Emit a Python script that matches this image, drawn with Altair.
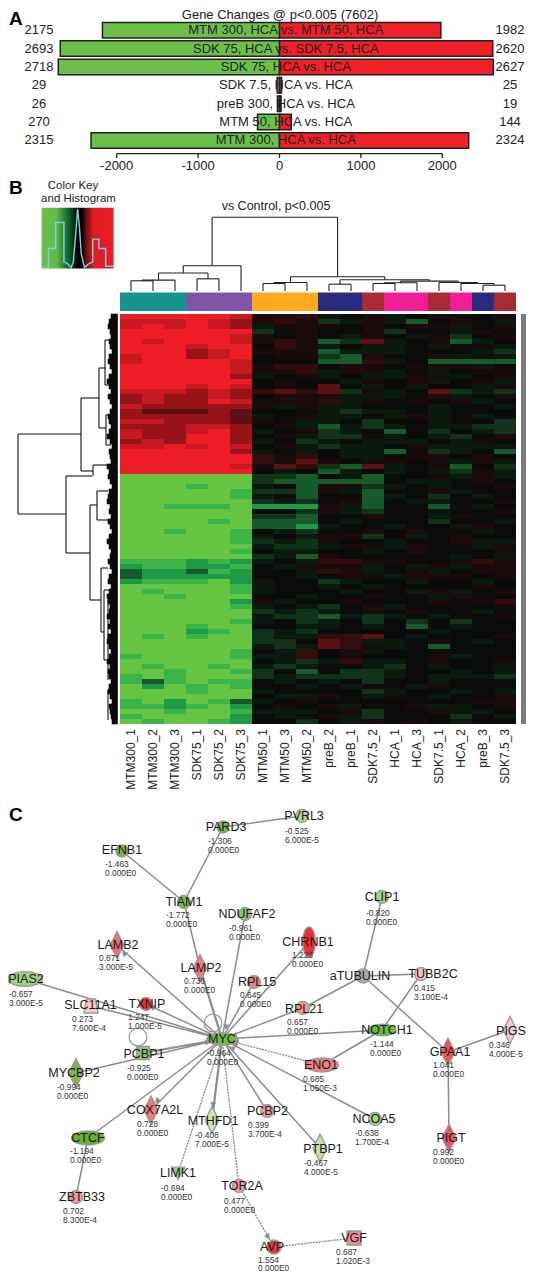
import math
import altair as alt
import pandas as pd

FONT = "Liberation Sans"
INK = "#222222"
W, H = 519, 1264

# ---------- Panel A data ----------
comparisons = ["MTM 300, HCA vs. MTM 50, HCA", "SDK 75, HCA vs. SDK 7.5, HCA", "SDK 75, HCA vs. HCA",
               "SDK 7.5, HCA vs. HCA", "preB 300, HCA vs. HCA", "MTM 50, HCA vs. HCA", "MTM 300, HCA vs. HCA"]
down_counts = [2175, 2693, 2718, 29, 26, 270, 2315]
up_counts = [1982, 2620, 2627, 25, 19, 144, 2324]
axis_ticks = [-2000, -1000, 0, 1000, 2000]

# ---------- Panel B data ----------
samples = ["MTM300_1", "MTM300_2", "MTM300_3", "SDK75_1", "SDK75_2", "SDK75_3", "MTM50_1", "MTM50_3", "MTM50_2",
           "preB_2", "preB_1", "SDK7.5_2", "HCA_1", "HCA_3", "SDK7.5_1", "HCA_2", "preB_3", "SDK7.5_3"]
groups = ["MTM300", "SDK75", "MTM50", "preB", "SDK7.5", "HCA", "SDK7.5", "HCA", "preB", "SDK7.5"]
group_sizes = [3, 3, 3, 2, 1, 2, 1, 1, 1, 1]
group_names = ["MTM300", "SDK75", "MTM50", "preB", "SDK7.5", "HCA"]
group_colors = ["#16958f", "#7d54a6", "#ffa91c", "#2a2a80", "#a62c32", "#f01e96"]

level_values = {"R": 1.0, "r": 0.8, "d": 0.6, "m": 0.4, "n": 0.25, "p": 0.12, "k": 0.0,
                "q": -0.12, "h": -0.25, "g": -0.4, "e": -0.6, "c": -0.8, "L": -1.0}
heat_rows = """
RRRRRr ppnqkpqkppkp
rrrRrd pnphqpqgkpkq
rRrRrd qpppkpkppqkp
RRRRRR hkpkkphkkqpk
RRRRRr pkpkqpkqphkp
RrRRRr pnpghmqkpgqk
RRRrRR knpqkqqkqkpq
RRRdrR pppgqqqkkkqh
rRRdrR kpphgpkkpqpq
rRRRRr kkkggnqkgggg
RRRRRr pnnkppkpppqk
RRRRRr ppnqppqkqkpp
RRRRRd qkpqkqqppqkp
RRRRRR kpkkqpkpqkpq
RRRrRr kpkmkqkqkkqp
rrrdrd nmnmhpqkmhqh
drddrd kpppqqqkpqkp
drddRr pppnqpkpkpqk
rddddd pqpqqkkkqkkq
dmmmdm kkkqhqqkqkkk
dddddm qkpqqkqpqkqk
rrdddm pkqqkhkkqkkh
dddrrd kpqgqhqkqqhh
rddrRd qkphqkgkhkqh
rddRRd kpqhhpqkqhkp
drdRRd qkhqkqqqkqpk
rrRrRr kpqhqqkpqqqq
RRRRRd qkqkqqgkhqkg
RRRRRR npnkqqkppkpk
RRRRRR npmpkppkpqpq
RRRRRr pmnhgmqkpgkh
RRRRRR kqkgqkqkqhpq
LLLLLL hhgkqgkkpqpq
LLLLLL hgggggkqqkpk
LLLcLL qkgpphqkqkkp
LLLLLc hhgpqgkkpqkk
LLLLLc qkgkkgqkhkqk
LLLLLL hqhkpgkqqkkp
LLcccL eeepqgkkgkqk
LLLLLL kkhpqhkkqkkp
LLLLLL hhgkkpkkqpkk
LLLLcL gggkqkkkhkkq
LLLLLL ggeqkkqkkqpk
LLcLLc kqhkkpkpkkqk
LLLLLc qkqpphkqkpkk
LLLLLc hqhpkkqkkpqq
LLLLLL qhhqppqpkkqp
LLLLLc kqqkkqkpkkkp
LLLLLL hqgpkkkkkqkq
cccece qkqnnppkkpnp
ecceec kqpppqkqpqpp
geegce kkqnpqkpqkpp
geeeee kkqkppqpppkp
ecccLe qkkhqkkqkkqk
LLLLLc qkkqkqkkkkpk
LcLLLc qkkkqkkqpqkp
LLcLLL kkqkkpkkqpkk
LLLLLe pqkkpkkkpkpn
LLLLLc qkqhkpqkkkkp
LLLLLL hqhqkpkpkkqk
LLLLLL qhhgqhqkqkkp
LLLLLc qkhqkhkhkhkk
LLLcLL kkqqkqkgkqkk
LLLecL hqhkkkkkqkkk
LcLcLL hqqnnmkqkkkp
LLLLLL hhkmnqqkpkqk
LLLLLL qhqmnpqkgkkk
LLLLLc kqnkpqkkkkkk
cLLLLc qqnkpkkkpqkk
LLLLLL kqhqnqqkpkkp
LcLLcL qhqkkqhkqkkq
LLcLLc hkgkhhqkkqkq
cLcLLL hqhhhhqkqqqh
cgcLcc kqkqkhkkqkkk
LeLcLc kkqkqpkqpkkk
LLLcLL qkkkkhqkkqkq
LLLLLL kqqpkqpkqkkp
cLeLcg qkpkkkkkkkpp
ccecLe kpkpqkkpqqkp
LLcLLc qqqkphkkpqqk
cLLLLe kqkpqhkkkhkq
LcLLce kkhkqpkpkqkk
""".split("\n")
heat_rows = [r.replace(" ", "") for r in heat_rows if r.strip()]
heat_level_domain = [-1, -.8, -.6, -.4, -.25, -.12, 0, .12, .25, .4, .6, .8, 1]
heat_level_colors = ["#66c443", "#3bb44a", "#1f9a46", "#175a2b", "#10331a", "#0b1a0e", "#0b0b0b",
                     "#1c0b0c", "#330c0e", "#5a1014", "#971519", "#c61a20", "#ee1c25"]

col_merges = [(0, 1, 280.8), ("m0", 2, 280.1), (3, 4, 278.8), ("m1", "m2", 273.0), ("m3", 5, 265.8),
              (6, 7, 283.5), ("m5", 8, 282.5), (9, 10, 284.2), (11, 12, 283.5), ("m8", 13, 282.8),
              (16, 17, 285.2), (15, "m10", 283.5), (14, "m11", 282.5), ("m9", "m12", 281.1),
              ("m7", "m13", 279.8), ("m6", "m14", 276.7), ("m4", "m15", 217.3)]
COL_LEAF_BASE = 291.0

row_dendro_segments = [
    (18, 434, 81, 434), (18, 514, 66, 514), (18, 434, 18, 514),
    (81, 398, 81, 471), (81, 398, 99, 398), (81, 471, 93, 471),
    (99, 368, 99, 428), (99, 368, 106, 368), (99, 428, 106, 428),
    (66, 476, 66, 553), (66, 476, 92, 476), (66, 553, 90, 553),
    (90, 505, 90, 600), (90, 505, 97, 505), (90, 600, 101, 600),
    (93, 465, 93, 476), (93, 465, 108, 465),
    (97, 491, 97, 520), (97, 491, 108, 491), (97, 520, 108, 520),
    (101, 568, 101, 632), (101, 568, 108, 568), (101, 632, 104, 632),
    (104, 590, 104, 660), (104, 590, 110, 590), (104, 660, 110, 660),
    (105, 340, 105, 385), (105, 340, 110, 340), (105, 385, 110, 385),
    (106, 415, 106, 445), (106, 415, 111, 415), (106, 445, 111, 445),
    (108, 600, 108, 680), (108, 690, 108, 720),
]
leaf_band_left = [111, 109, 108, 110, 111, 109, 110, 112, 109, 108, 110, 112, 109, 107, 109, 111, 108, 110, 112, 110,
                  108, 109, 111, 109, 107, 110, 112, 109, 110, 111, 107, 109, 108, 110, 112, 109, 108, 107, 110, 109,
                  111, 108, 110, 112, 109, 107, 109, 111, 110, 108, 110, 112, 109, 108, 111, 109, 107, 108, 110, 109,
                  107, 110, 108, 111, 108, 107, 109, 111, 109, 107, 110, 108, 109, 111, 109, 108, 110, 112, 109, 110, 111, 112]

hist_z = [-1, -.81, -.81, -.61, -.61, -.38, -.38, -.29, -.18, -.12, -.05, 0, .05, .1, .19, .33, .42, .42, .59, .59, .78, .78, 1]
hist_count = [0, 0, .33, .33, .77, .77, .1, .08, .01, .1, .6, 1, .7, .25, .01, .08, .1, .49, .49, .33, .33, .03, .03]

CIRCLE = "M-1,0A1,1,0,1,1,1,0A1,1,0,1,1,-1,0Z"
WIDE = "M-1,0A1,0.42,0,1,1,1,0A1,0.42,0,1,1,-1,0Z"
TALL = "M0,-1A0.42,1,0,1,1,0,1A0.42,1,0,1,1,0,-1Z"
DIAMOND = "M0,-1L0.5,0L0,1L-0.5,0Z"
SQUARE = "M-1,-1L1,-1L1,1L-1,1Z"
TRI = "M-1,-0.9L1,-0.9L0,1Z"
TRAP = "M-0.65,-1L0.65,-1L1,1L-1,1Z"

nodes = [
    ("EFNB1", 122, 851, CIRCLE, 12, "#7ab648", 122, 850, 105, 864, "-1.463", "0.000E0"),
    ("PARD3", 223, 827, CIRCLE, 12, "#7ab648", 226, 827, 208, 841, "-1.306", "0.000E0"),
    ("PVRL3", 302, 816, CIRCLE, 13, "#b5d89c", 304, 816, 285, 831, "-0.525", "6.000E-5"),
    ("TIAM1", 184, 902, CIRCLE, 13, "#7ab648", 184, 902, 166, 915, "-1.772", "0.000E0"),
    ("NDUFAF2", 245, 914, CIRCLE, 13, "#8cc46c", 247, 914, 229, 928, "-0.961", "0.000E0"),
    ("CLIP1", 382, 897, CIRCLE, 13, "#a4d47c", 382, 897, 366, 913, "-0.820", "0.000E0"),
    ("CHRNB1", 309, 942, TALL, 30, "#ee2d30", 308, 942, 292, 955, "1.223", "0.000E0"),
    ("LAMB2", 117, 945, DIAMOND, 27, "#ec7173", 118, 945, 99, 958, "0.871", "3.000E-5"),
    ("LAMP2", 200, 968, DIAMOND, 27, "#ee7a7c", 201, 968, 184, 981, "0.736", "0.000E0"),
    ("RPL15", 254, 982, CIRCLE, 13, "#f08080", 257, 982, 240, 995, "0.645", "0.000E0"),
    ("PIAS2", 25, 979, WIDE, 35, "#a4cf80", 26, 979, 9, 994, "-0.657", "3.000E-5"),
    ("SLC11A1", 91, 1006, TRAP, 14, "#f9c6c6", 90.5, 1005, 72, 1019, "0.273", "7.600E-4"),
    ("TXNIP", 146, 1004, CIRCLE, 13, "#ee3338", 147, 1004, 128, 1017, "1.247", "1.000E-5"),
    ("aTUBULIN", 363, 976, CIRCLE, 14, "#aaaaaa", 360, 976, 0, 0, "", ""),
    ("TUBB2C", 421, 974, CIRCLE, 13, "#f6c0c0", 433, 974, 414, 988, "0.415", "3.100E-4"),
    ("RPL21", 303, 1008, CIRCLE, 13, "#f39a9a", 304, 1009, 287, 1022, "0.657", "0.000E0"),
    ("NOTCH1", 382, 1030, WIDE, 28, "#66bb44", 387, 1030, 370, 1044, "-1.144", "0.000E0"),
    ("PIGS", 510, 1030, DIAMOND, 27, "#f7c9c9", 511, 1031, 489, 1045, "0.346", "4.000E-5"),
    ("GPAA1", 448, 1052, DIAMOND, 28, "#ea5555", 450, 1052, 433, 1065, "1.041", "0.000E0"),
    ("MYC", 222, 1039, WIDE, 30, "#7ab648", 222, 1039, 207, 1053, "-0.964", "0.000E0"),
    ("PCBP1", 143, 1053, SQUARE, 13, "#8cc46c", 144, 1054, 127, 1068, "-0.925", "0.000E0"),
    ("MYCBP2", 76, 1073, DIAMOND, 29, "#7ab648", 74, 1073, 57, 1087, "-0.994", "0.000E0"),
    ("COX7A2L", 151, 1110, DIAMOND, 28, "#ee7a7c", 155, 1110, 137, 1124, "0.728", "0.000E0"),
    ("MTHFD1", 212, 1120, DIAMOND, 27, "#c8e4b4", 213, 1121, 195, 1135, "-0.408", "7.000E-5"),
    ("CTCF", 88, 1138, WIDE, 33, "#66b032", 88, 1138, 70, 1151, "-1.194", "0.000E0"),
    ("ZBTB33", 76, 1197, CIRCLE, 13, "#f59a9a", 82, 1197, 63, 1211, "0.702", "8.300E-4"),
    ("LIMK1", 178, 1173, TRI, 13, "#9ccc7c", 178, 1173, 161, 1188, "-0.694", "0.000E0"),
    ("TOR2A", 239, 1186, CIRCLE, 13, "#f59a9a", 242, 1186, 224, 1201, "0.477", "0.000E0"),
    ("PCBP2", 267, 1111, CIRCLE, 13, "#f4a0a0", 267.5, 1111, 248, 1125, "0.399", "3.700E-4"),
    ("PTBP1", 320, 1148, DIAMOND, 28, "#c4e0ac", 323, 1149, 304, 1163, "-0.467", "4.000E-5"),
    ("NCOA5", 375, 1119, CIRCLE, 13, "#a9cf8e", 374, 1119, 355, 1133, "-0.638", "1.700E-4"),
    ("ENO1", 322, 1065, WIDE, 33, "#ee8080", 321, 1065, 303, 1079, "0.685", "1.050E-3"),
    ("PIGT", 449, 1138, DIAMOND, 28, "#e85560", 451, 1138, 433, 1152, "0.992", "0.000E0"),
    ("AVP", 274, 1247, CIRCLE, 14, "#e43a40", 272, 1247, 258, 1259.5, "1.554", "0.000E0"),
    ("VGF", 354, 1238, SQUARE, 14, "#ee8a90", 354, 1238, 336, 1252, "0.687", "1.020E-3"),
]
edges_solid = [("EFNB1", "TIAM1"), ("PARD3", "TIAM1"), ("PARD3", "PVRL3"), ("TIAM1", "LAMP2"), ("NDUFAF2", "MYC"),
               ("LAMB2", "MYC"), ("PIAS2", "MYC"), ("SLC11A1", "MYC"), ("TXNIP", "MYC"), ("RPL15", "MYC"),
               ("CHRNB1", "MYC"), ("RPL21", "MYC"), ("NOTCH1", "MYC"), ("NCOA5", "MYC"), ("PTBP1", "MYC"),
               ("PCBP2", "MYC"), ("COX7A2L", "MYC"), ("CTCF", "MYC"), ("CTCF", "ZBTB33"), ("MYCBP2", "MYC"),
               ("CLIP1", "aTUBULIN"), ("aTUBULIN", "TUBB2C"), ("aTUBULIN", "RPL21"), ("TUBB2C", "NOTCH1"),
               ("aTUBULIN", "GPAA1"), ("PIGS", "GPAA1"), ("GPAA1", "PIGT"), ("NOTCH1", "ENO1")]
edges_thick = [("LAMP2", "MYC"), ("MTHFD1", "MYC"), ("PCBP1", "MYC")]
edges_dotted = [("LIMK1", "MYC"), ("TOR2A", "MYC"), ("TOR2A", "AVP"), ("AVP", "VGF"), ("ENO1", "MYC")]
arrow_tips = [(124, 953, "MYC"), (152, 1007, "MYC"), (157, 1101, "MYC"), (213, 1105, "MYC"), (182, 1170, "MYC"),
              (268, 1237, "TOR2A"), (233, 1037, "RPL15"), (234, 1036, "RPL21"), (236, 1040, "NOTCH1"),
              (235, 1044, "ENO1"), (232, 1048, "NCOA5"), (208, 1042, "PCBP1"), (226, 1027, "NDUFAF2")]
self_loops = [("MYC", 213, 1023), ("PCBP1", 138, 1037)]


def FX(name, scale=None):
    return alt.X(name, axis=None, scale=scale or alt.Scale(domain=[8, 8 + W], nice=False, zero=False))

def FY(name, scale=None):
    return alt.Y(name, axis=None, scale=scale or alt.Scale(domain=[8 + H, 8], nice=False, zero=False))

def txt(rows, size=12.5, color=INK, align="center", baseline="middle", **kw):
    df = pd.DataFrame(rows, columns=["t", "x", "y"])
    return alt.Chart(df).mark_text(font=FONT, fontSize=size, color=color, align=align, baseline=baseline, **kw).encode(
        x=FX("x:Q"), y=FY("y:Q"), text="t:N")

PX = 0.0814
ZERO = 279.5
def a_x():
    return alt.Scale(domain=[(8 - ZERO) / PX, (8 + W - ZERO) / PX], nice=False, zero=False)
def a_band():
    return alt.Y("label:N", axis=None, sort=None,
                 scale=alt.Scale(domain=comparisons, range=[13.0, 141.6], paddingInner=0.156, paddingOuter=0.078))

a_df = pd.DataFrame({"label": comparisons, "down": down_counts, "up": up_counts})
a_df["neg"] = -a_df["down"]
a_df["zero"] = 0
a_df["lx"] = (39 - ZERO) / PX
a_df["rx"] = (510 - ZERO) / PX
a_df["cx"] = (285.8 - ZERO) / PX
base_a = alt.Chart(a_df)
tick_df = pd.DataFrame({"v": axis_ticks, "y0": [153.6] * 5, "y1": [158] * 5, "ly": [166] * 5,
                        "t": [str(v) for v in axis_ticks]})

layers_a = [
    base_a.mark_bar(color="#6cc04a", stroke=INK, strokeWidth=1.5).encode(x=FX("neg:Q", a_x()), x2="zero:Q", y=a_band()),
    base_a.mark_bar(color="#f02028", stroke=INK, strokeWidth=1.5).encode(x=FX("zero:Q", a_x()), x2="up:Q", y=a_band()),
    alt.Chart(pd.DataFrame({"a": [axis_ticks[0]], "b": [axis_ticks[-1]], "y": [153.6]})).mark_rule(color=INK, strokeWidth=1.3).encode(
        x=FX("a:Q", a_x()), x2="b:Q", y=FY("y:Q")),
    alt.Chart(tick_df).mark_rule(color=INK, strokeWidth=1.3).encode(x=FX("v:Q", a_x()), y=FY("y0:Q"), y2="y1:Q"),
    alt.Chart(tick_df).mark_text(font=FONT, fontSize=13, color=INK).encode(x=FX("v:Q", a_x()), y=FY("ly:Q"), text="t:N"),
    base_a.mark_text(font=FONT, fontSize=13, color=INK).encode(x=FX("cx:Q", a_x()), y=a_band(), text="label:N"),
    base_a.mark_text(font=FONT, fontSize=13, color=INK).encode(x=FX("lx:Q", a_x()), y=a_band(), text="down:Q"),
    base_a.mark_text(font=FONT, fontSize=13, color=INK).encode(x=FX("rx:Q", a_x()), y=a_band(), text="up:Q"),
    txt([("Gene Changes @ p<0.005 (7602)", 280, 14.5)], size=13),
    txt([("A", 9, 18.5)], size=19, color="#000000", align="left", fontWeight="bold"),
]

COL_W = 22
COL_LEFT = 120
def col_x():
    return alt.Scale(domain=[(8 - COL_LEFT) / COL_W, (8 + W - COL_LEFT) / COL_W], nice=False, zero=False)
ROW_H = 410 / len(heat_rows)
def row_y():
    return alt.Scale(domain=[(8 + H - 314) / ROW_H, (8 - 314) / ROW_H], nice=False, zero=False)

heat_df = pd.DataFrame([{"c0": j, "c1": j + 1, "r0": i, "r1": i + 1, "v": level_values[ch]}
                        for i, row in enumerate(heat_rows) for j, ch in enumerate(row)])
heat_scale = alt.Scale(domain=heat_level_domain, range=heat_level_colors)
heat = alt.Chart(heat_df).mark_rect().encode(
    x=FX("c0:Q", col_x()), x2="c1:Q", y=FY("r0:Q", row_y()), y2="r1:Q",
    color=alt.Color("v:Q", scale=heat_scale, legend=None))

starts = [sum(group_sizes[:i]) for i in range(len(groups))]
strip_df = pd.DataFrame({"c0": starts, "c1": [s + n for s, n in zip(starts, group_sizes)], "g": groups,
                         "y0": [292.5] * len(groups), "y1": [311] * len(groups)})
strip = alt.Chart(strip_df).mark_rect().encode(
    x=FX("c0:Q", col_x()), x2="c1:Q", y=FY("y0:Q"), y2="y1:Q",
    color=alt.Color("g:N", scale=alt.Scale(domain=group_names, range=group_colors), legend=None))

centres, tops, segs = {}, {}, []
def child(c):
    return (centres[c], tops[c]) if isinstance(c, str) else (c + 0.5, COL_LEAF_BASE)
for k, (l, r, h) in enumerate(col_merges):
    lx, ly = child(l)
    rx, ry = child(r)
    segs += [(lx, ly, lx, h), (lx, h, rx, h), (rx, h, rx, ry)]
    centres[f"m{k}"] = (lx + rx) / 2
    tops[f"m{k}"] = h
col_dendro = alt.Chart(pd.DataFrame(segs, columns=["x", "y", "x2", "y2"])).mark_rule(color=INK, strokeWidth=1.1).encode(
    x=FX("x:Q", col_x()), x2="x2:Q", y=FY("y:Q"), y2="y2:Q")
row_dendro = alt.Chart(pd.DataFrame(row_dendro_segments, columns=["x", "y", "x2", "y2"])).mark_rule(
    color="#111111", strokeWidth=1.1).encode(x=FX("x:Q"), x2="x2:Q", y=FY("y:Q"), y2="y2:Q")

leaf_df = pd.DataFrame({"l": leaf_band_left, "end": [117.5] * len(heat_rows),
                        "r0": range(len(heat_rows)), "r1": range(1, len(heat_rows) + 1)})
leaf_band = alt.Chart(leaf_df).mark_rect(color="#0a0a0a", stroke="#0a0a0a", strokeWidth=0.6).encode(
    x=FX("l:Q"), x2="end:Q", y=FY("r0:Q", row_y()), y2="r1:Q")

side = alt.Chart(pd.DataFrame({"a": [521], "b": [526], "t": [314], "u": [724]})).mark_rect(color="#7a7a7a").encode(
    x=FX("a:Q"), x2="b:Q", y=FY("t:Q"), y2="u:Q")

labels_df = pd.DataFrame({"s": samples, "c": [i + 0.5 for i in range(18)], "y": [729] * 18})
col_labels = alt.Chart(labels_df).mark_text(font=FONT, fontSize=12, color=INK, angle=270, align="right", baseline="middle").encode(
    x=FX("c:Q", col_x()), y=FY("y:Q"), text="s:N")

key_gradient = alt.LinearGradient(gradient="linear", x1=0, x2=1, y1=0, y2=0, stops=[
    alt.GradientStop(color="#6cc04a", offset=0), alt.GradientStop(color="#62bd48", offset=0.2),
    alt.GradientStop(color="#0a5c2e", offset=0.39), alt.GradientStop(color="#000000", offset=0.5),
    alt.GradientStop(color="#000000", offset=0.56), alt.GradientStop(color="#6a1014", offset=0.62),
    alt.GradientStop(color="#e01c24", offset=0.72), alt.GradientStop(color="#ee1c25", offset=1)])
key_rect = alt.Chart(pd.DataFrame({"a": [41.6], "b": [113.6], "t": [207.8], "u": [268.5]})).mark_rect(
    color=key_gradient).encode(x=FX("a:Q"), x2="b:Q", y=FY("t:Q"), y2="u:Q")

hist_df = pd.DataFrame({"z": hist_z, "n": hist_count, "i": range(len(hist_z))})
KEY_PX = 36
key_cx = 77.6 - 8
hist_base = 268 - 8
hist_line = alt.Chart(hist_df).mark_line(color="#7fd0e0", strokeWidth=1.4, interpolate="linear").encode(
    x=FX("z:Q", alt.Scale(domain=[-key_cx / KEY_PX, (W - key_cx) / KEY_PX], nice=False, zero=False)),
    y=FY("n:Q", alt.Scale(domain=[(hist_base - H) / 59, hist_base / 59], nice=False, zero=False)),
    order="i:Q")

layers_b = [
    key_rect, hist_line, strip, heat, col_dendro, row_dendro, leaf_band, side, col_labels,
    txt([("Color Key", 73, 186)], size=11.5),
    txt([("and Histogram", 78.5, 198.5)], size=11.5),
    txt([("vs Control,  p<0.005", 276, 206)], size=12.5),
    txt([("B", 9, 188)], size=19, color="#000000", align="left", fontWeight="bold"),
]

pos = {n[0]: (n[1], n[2]) for n in nodes}
def edge_layer(pairs, width, color="#8c8c8c", **kw):
    df = pd.DataFrame([(*pos[a], *pos[b]) for a, b in pairs], columns=["x", "y", "x2", "y2"])
    return alt.Chart(df).mark_rule(color=color, strokeWidth=width, **kw).encode(
        x=FX("x:Q"), x2="x2:Q", y=FY("y:Q"), y2="y2:Q")

arrow_rows = []
for tx, ty, src in arrow_tips:
    sx, sy = pos[src]
    arrow_rows.append((tx, ty, math.degrees(math.atan2(tx - sx, -(ty - sy))) % 360))
arrows = alt.Chart(pd.DataFrame(arrow_rows, columns=["x", "y", "a"])).mark_point(
    shape="triangle-up", filled=True, color="#8c8c8c", size=40, opacity=1).encode(
    x=FX("x:Q"), y=FY("y:Q"), angle=alt.Angle("a:Q", scale=None))

loops = alt.Chart(pd.DataFrame([(x, y) for _, x, y in self_loops], columns=["x", "y"])).mark_point(
    shape="circle", filled=False, color="#999999", strokeWidth=1.3, size=314, opacity=1).encode(
    x=FX("x:Q"), y=FY("y:Q"))

node_df = pd.DataFrame([{"name": n[0], "x": n[1], "y": n[2], "shape": n[3], "size": n[4] ** 2, "fill": n[5]} for n in nodes])
node_marks = alt.Chart(node_df).mark_point(filled=True, stroke="#9a9a9a", strokeWidth=1.4, opacity=1, fillOpacity=1).encode(
    x=FX("x:Q"), y=FY("y:Q"),
    shape=alt.Shape("shape:N", scale=None), size=alt.Size("size:Q", scale=None), fill=alt.Fill("fill:N", scale=None))

name_rows = [(n[0], n[6], n[7]) for n in nodes]
value_rows = [(n[10], n[8], n[9]) for n in nodes if n[10]]
p_rows = [(n[11], n[8], n[9] + 8.6) for n in nodes if n[11]]

layers_c = [
    edge_layer(edges_solid, 1.5),
    edge_layer(edges_thick, 2.2),
    edge_layer(edges_dotted, 1.4, strokeDash=[2, 1]),
    arrows, loops, node_marks,
    txt(name_rows, size=12.5, color="#1a1a1a"),
    txt(value_rows, size=8.4, color="#333333", align="left"),
    txt(p_rows, size=8.4, color="#333333", align="left"),
    txt([("C", 9, 815)], size=19, color="#000000", align="left", fontWeight="bold"),
]

chart = alt.layer(*layers_a, *layers_b, *layers_c).resolve_scale(
    x="independent", y="independent", color="independent"
).properties(width=W, height=H, padding=0, background="white",
             autosize=alt.AutoSizeParams(type="none")).configure_view(stroke=None)

chart.save("out.html", embed_options={"renderer": "svg", "actions": False})
